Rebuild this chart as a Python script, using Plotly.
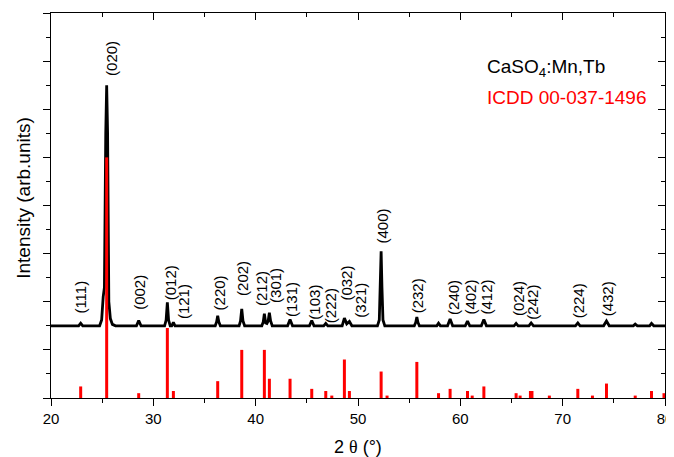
import plotly.graph_objects as go

# Measured XRD profile (2theta, intensity in arb. units)
profile_2theta = [20.0,
    22.7, 22.9, 23.1,
    24.75, 24.95, 25.1, 25.22, 25.35, 25.44, 25.53, 25.65, 25.8, 26.0, 26.3,
    28.35, 28.57, 28.8,
    31.1, 31.25, 31.37, 31.49, 31.65,
    31.8, 31.96, 32.12,
    36.05, 36.18, 36.29, 36.4, 36.55,
    38.38, 38.52, 38.64, 38.76, 38.92,
    40.6, 40.74, 40.85, 40.98, 41.1, 41.22, 41.34, 41.46, 41.62,
    43.12, 43.36, 43.6,
    45.25, 45.48, 45.7,
    46.65, 46.85, 47.05,
    48.45, 48.67, 48.9, 49.16, 49.4,
    51.9, 52.08, 52.18, 52.26, 52.34, 52.44, 52.62,
    55.5, 55.64, 55.75, 55.86, 56.0,
    57.7, 57.87, 58.05,
    58.75, 59.0, 59.25,
    60.48, 60.7, 60.92,
    62.05, 62.3, 62.55,
    65.25, 65.45, 65.65,
    66.7, 66.92, 67.15,
    71.25, 71.48, 71.7,
    74.0, 74.28, 74.55,
    76.9, 77.09, 77.3,
    78.5, 78.68, 78.9,
    80.0]
profile_int = [1.5,
    1.5, 1.555, 1.5,
    1.5, 1.62, 2.1, 2.3, 5.5, 6.5, 5.5, 2.0, 1.65, 1.53, 1.5,
    1.5, 1.61, 1.5,
    1.5, 1.62, 1.99, 1.62, 1.5,
    1.5, 1.57, 1.5,
    1.5, 1.58, 1.71, 1.58, 1.5,
    1.5, 1.6, 1.85, 1.6, 1.5,
    1.5, 1.58, 1.75, 1.56, 1.55, 1.6, 1.77, 1.6, 1.5,
    1.5, 1.63, 1.5,
    1.5, 1.61, 1.5,
    1.5, 1.55, 1.5,
    1.5, 1.66, 1.54, 1.59, 1.5,
    1.5, 1.62, 2.3, 3.05, 2.3, 1.62, 1.5,
    1.5, 1.57, 1.68, 1.57, 1.5,
    1.5, 1.555, 1.5,
    1.5, 1.64, 1.5,
    1.5, 1.6, 1.5,
    1.5, 1.63, 1.5,
    1.5, 1.55, 1.5,
    1.5, 1.56, 1.5,
    1.5, 1.56, 1.5,
    1.5, 1.6, 1.5,
    1.5, 1.535, 1.5,
    1.5, 1.55, 1.5,
    1.5]

# ICDD 00-037-1496 reference lines
ref_2theta = [22.9, 25.44, 28.57, 31.37, 31.96, 36.29, 38.64, 40.85, 41.34, 43.36,
              45.48, 46.85, 47.44, 48.67, 49.16, 52.26, 52.84, 55.75, 57.87, 59.0,
              60.7, 61.16, 62.3, 65.45, 65.84, 66.85, 67.0, 68.7, 71.48, 72.91,
              74.28, 77.09, 78.68, 79.9]
ref_int = [0.24, 5.0, 0.10, 1.455, 0.145, 0.35, 1.0, 1.0, 0.40, 0.40,
           0.19, 0.145, 0.05, 0.80, 0.145, 0.55, 0.05, 0.75, 0.10, 0.19,
           0.145, 0.05, 0.24, 0.10, 0.05, 0.145, 0.145, 0.05, 0.19, 0.05,
           0.30, 0.05, 0.145, 0.10]

# hkl labels
hkl_labels = ["(111)", "(020)", "(002)", "(012)", "(121)", "(220)", "(202)", "(212)",
              "(301)", "(131)", "(103)", "(222)", "(032)", "(321)", "(400)", "(232)",
              "(240)", "(402)", "(412)", "(024)", "(242)", "(224)", "(432)"]
hkl_x = [22.9, 25.93, 28.57, 31.70, 32.93, 36.45, 38.64, 40.59, 41.99, 43.52, 45.74,
         47.27, 48.84, 50.28, 52.42, 55.90, 59.33, 60.96, 62.52, 65.75, 67.09, 71.55, 74.38]
hkl_y = [2.10, 7.06, 2.20, 2.40, 2.00, 2.18, 2.49, 2.28, 2.33, 2.05, 1.99,
         1.91, 2.38, 2.04, 3.58, 2.12, 2.09, 2.09, 2.09, 2.06, 2.00, 2.02, 2.06]

stick_x, stick_y = [], []
for p, h in zip(ref_2theta, ref_int):
    stick_x += [p, p, None]
    stick_y += [0, h, None]

FONT = "Arial, Liberation Sans, sans-serif"

fig = go.Figure()
fig.add_trace(go.Scatter(x=profile_2theta, y=profile_int, mode="lines",
                         line=dict(color="black", width=2.8), showlegend=False,
                         hoverinfo="skip"))
fig.add_trace(go.Scatter(x=stick_x, y=stick_y, mode="lines",
                         line=dict(color="#ff0000", width=3), showlegend=False,
                         hoverinfo="skip"))
# dummy trace to create mirrored axes (top / right, inward ticks)
fig.add_trace(go.Scatter(x=[20], y=[0], xaxis="x2", yaxis="y2", mode="lines",
                         showlegend=False, hoverinfo="skip"))

for t, x, y in zip(hkl_labels, hkl_x, hkl_y):
    fig.add_annotation(x=x, y=y, text=t, textangle=-90, showarrow=False,
                       xanchor="center", yanchor="middle",
                       font=dict(family=FONT, size=15, color="black"))

fig.add_annotation(x=62.4, y=6.86, text="CaSO<sub>4</sub>:Mn,Tb", showarrow=False,
                   xanchor="left", yanchor="middle",
                   font=dict(family=FONT, size=19, color="black"))
fig.add_annotation(x=62.4, y=6.24, text="ICDD 00-037-1496", showarrow=False,
                   xanchor="left", yanchor="middle",
                   font=dict(family=FONT, size=19, color="#ff0000"))

# axis titles
fig.add_annotation(xref="paper", yref="paper", x=0.50, y=-0.126,
                   text="2 <span style='font-family:Liberation Serif, Times New Roman, serif'>θ</span> (°)",
                   showarrow=False, xanchor="center", yanchor="middle",
                   font=dict(family=FONT, size=18, color="black"))
fig.add_annotation(xref="paper", yref="paper", x=-0.044, y=0.52,
                   text="Intensity (arb.units)", textangle=-90,
                   showarrow=False, xanchor="center", yanchor="middle",
                   font=dict(family=FONT, size=19, color="black"))

axis_common = dict(showline=True, linecolor="black", linewidth=1.3, showgrid=False,
                   zeroline=False, tickcolor="black", tickwidth=1.3, automargin=False)

fig.update_layout(
    width=666, height=449,
    margin=dict(l=43, r=9, t=5, b=59),
    plot_bgcolor="white", paper_bgcolor="white",
    font=dict(family=FONT, color="black"),
    xaxis=dict(range=[20, 80], tick0=20, dtick=10, ticks="outside", ticklen=7,
               minor=dict(dtick=5, ticks="outside", ticklen=4, tickcolor="black", tickwidth=1.3),
               tickfont=dict(size=15, family=FONT),
               **axis_common),
    yaxis=dict(range=[0, 8], tick0=0, dtick=1, ticks="outside", ticklen=7,
               showticklabels=False,
               minor=dict(dtick=0.5, ticks="outside", ticklen=4, tickcolor="black", tickwidth=1.3),
               **axis_common),
    xaxis2=dict(range=[20, 80], overlaying="x", side="top", tick0=20, dtick=10,
                ticks="inside", ticklen=7, showticklabels=False,
                minor=dict(dtick=5, ticks="inside", ticklen=4, tickcolor="black", tickwidth=1.3),
                **axis_common),
    yaxis2=dict(range=[0, 8], overlaying="y", side="right", tick0=0, dtick=1,
                ticks="inside", ticklen=7, showticklabels=False,
                minor=dict(dtick=0.5, ticks="inside", ticklen=4, tickcolor="black", tickwidth=1.3),
                **axis_common),
)

fig.write_html("out.html")
